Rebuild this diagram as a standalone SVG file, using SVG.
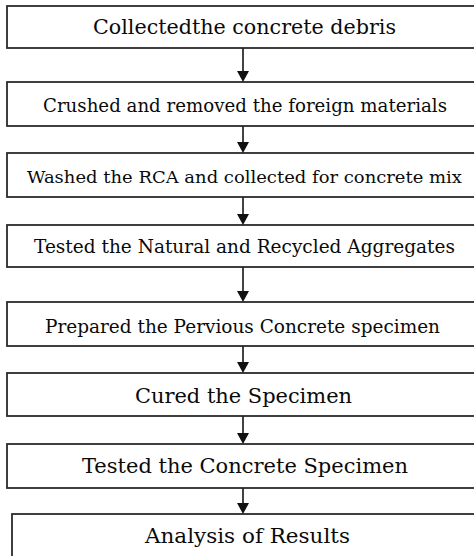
<svg xmlns="http://www.w3.org/2000/svg" width="474" height="556" viewBox="0 0 474 556">
<defs>
<style>
.box{fill:#fff;stroke:#2b2b2b;stroke-width:1.8}
.t{fill:#0a0a0a;text-anchor:middle}
.c{stroke:#222;stroke-width:1.7;fill:none}
.h{fill:#111}
</style>
</defs>
<rect width="474" height="556" fill="#fff"/>
<g font-family="DejaVu Serif, Liberation Serif, serif">
<g id="n1"><rect class="box" x="7" y="6" width="480" height="42"/><text class="t" x="244.5" y="34" font-size="20" textLength="303" lengthAdjust="spacingAndGlyphs">Collectedthe concrete debris</text></g>
<g id="n2"><rect class="box" x="7" y="82" width="480" height="44"/><text class="t" x="245" y="112" font-size="19" textLength="404" lengthAdjust="spacingAndGlyphs">Crushed and removed the foreign materials</text></g>
<g id="n3"><rect class="box" x="7" y="153" width="480" height="44"/><text class="t" x="244.5" y="183" font-size="17.5" textLength="435" lengthAdjust="spacingAndGlyphs">Washed the RCA and collected for concrete mix</text></g>
<g id="n4"><rect class="box" x="7" y="225" width="480" height="42"/><text class="t" x="244.5" y="253" font-size="19" textLength="421" lengthAdjust="spacingAndGlyphs">Tested the Natural and Recycled Aggregates</text></g>
<g id="n5"><rect class="box" x="7" y="302" width="480" height="44"/><text class="t" x="242.5" y="333" font-size="19" textLength="395" lengthAdjust="spacingAndGlyphs">Prepared the Pervious Concrete specimen</text></g>
<g id="n6"><rect class="box" x="7" y="373" width="480" height="43"/><text class="t" x="243.5" y="403" font-size="21" textLength="217" lengthAdjust="spacingAndGlyphs">Cured the Specimen</text></g>
<g id="n7"><rect class="box" x="7" y="444" width="480" height="44"/><text class="t" x="245" y="473" font-size="20" textLength="326" lengthAdjust="spacingAndGlyphs">Tested the Concrete Specimen</text></g>
<g id="n8"><rect class="box" x="12" y="514" width="480" height="60"/><text class="t" x="247.5" y="543" font-size="20" textLength="205" lengthAdjust="spacingAndGlyphs">Analysis of Results</text></g>
</g>
<g id="connectors">
<line class="c" x1="243" y1="48" x2="243" y2="72"/><polygon class="h" points="237,71 249,71 243,82"/>
<line class="c" x1="243" y1="126" x2="243" y2="143"/><polygon class="h" points="237,142 249,142 243,153"/>
<line class="c" x1="243" y1="197" x2="243" y2="215"/><polygon class="h" points="237,214 249,214 243,225"/>
<line class="c" x1="243" y1="267" x2="243" y2="292"/><polygon class="h" points="237,291 249,291 243,302"/>
<line class="c" x1="243" y1="346" x2="243" y2="363"/><polygon class="h" points="237,362 249,362 243,373"/>
<line class="c" x1="243" y1="416" x2="243" y2="434"/><polygon class="h" points="237,433 249,433 243,444"/>
<line class="c" x1="243" y1="488" x2="243" y2="504"/><polygon class="h" points="237,503 249,503 243,514"/>
</g>
</svg>
